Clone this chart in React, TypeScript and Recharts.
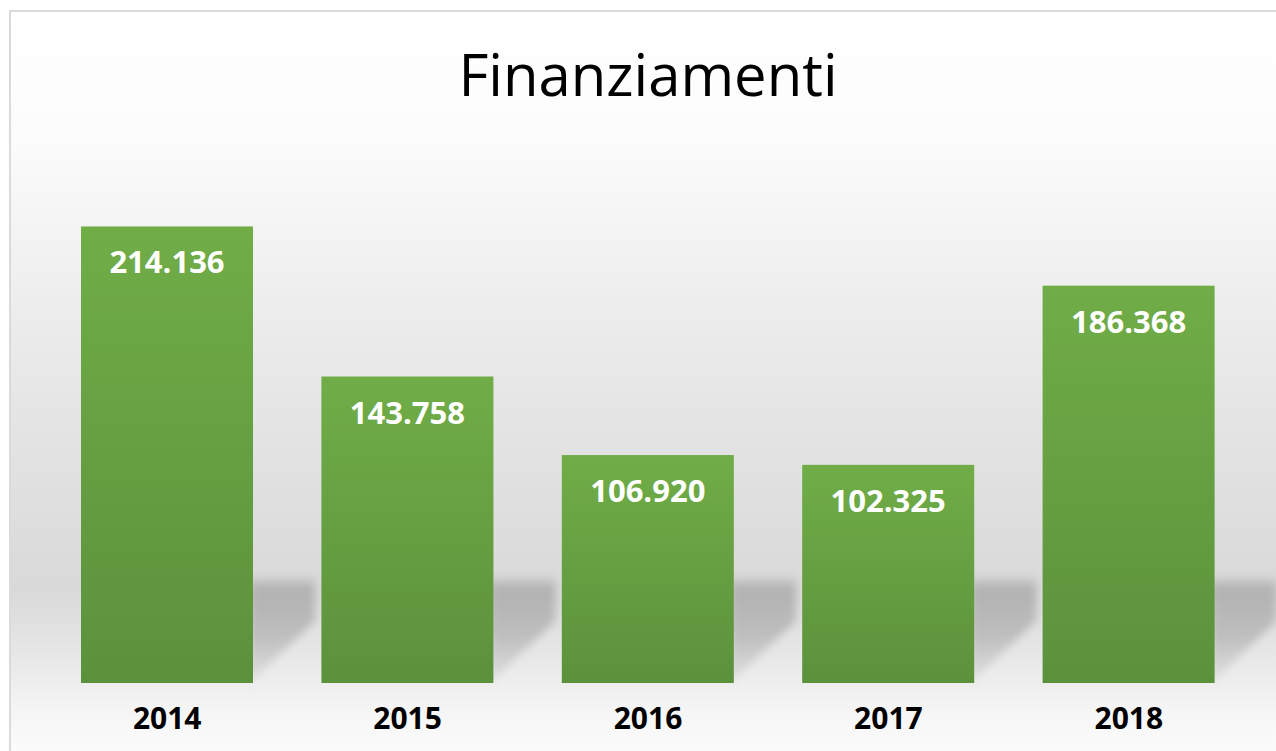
import { BarChart, Bar, XAxis, YAxis, LabelList } from 'recharts'

const years = ['2014', '2015', '2016', '2017', '2018']
const amounts = [214136, 143758, 106920, 102325, 186368]

const data = years.map((year, i) => ({ year, value: amounts[i] }))

const fmt = (v: number) => String(v).replace(/\B(?=(\d{3})+(?!\d))/g, '.')

function ShadowBar(props: any) {
  const { x, y, width, height } = props
  const bottom = y + height
  const right = x + width
  const top = bottom - 108
  const pts = [
    [right - 4, bottom],
    [right + 62, bottom - 62],
    [right + 62, top],
    [right - 4, top],
  ]
    .map((p) => p.join(','))
    .join(' ')
  return (
    <g>
      <polygon points={pts} fill="url(#shadowGrad)" filter="url(#shadowBlur)" />
      <rect x={x} y={y} width={width} height={height} fill="url(#barGrad)" />
    </g>
  )
}

export default function App() {
  return (
    <div style={{ position: 'absolute', left: 0, top: 0, width: 1276, height: 751, overflow: 'hidden', background: '#fff' }}>
      <div
        style={{
          position: 'absolute',
          left: 9,
          top: 10,
          width: 1300,
          height: 760,
          border: '2px solid #dadada',
          background:
            'linear-gradient(to bottom, #ffffff 0%, #fcfcfc 16%, #ececec 40%, #e0e0e0 62%, #d9d9d9 76%, #e6e6e6 84%, #f5f5f5 92%, #ffffff 100%)',
        }}
      />
      <div
        style={{
          position: 'absolute',
          left: 398,
          top: 36,
          width: 500,
          textAlign: 'center',
          fontFamily: '"Open Sans", sans-serif',
          fontSize: 58,
          color: '#000',
          lineHeight: '76px',
        }}
      >
        Finanziamenti
      </div>
      <div style={{ position: 'absolute', left: 0, top: 0 }}>
        <BarChart width={1276} height={751} data={data} margin={{ top: 150, right: 27, left: 47, bottom: 18 }} barSize={172}>
          <defs>
            <linearGradient id="barGrad" x1="0" y1="0" x2="0" y2="1">
              <stop offset="0%" stopColor="#70ad47" />
              <stop offset="100%" stopColor="#5c913c" />
            </linearGradient>
            <linearGradient id="shadowGrad" x1="0" y1="0" x2="0" y2="1">
              <stop offset="0%" stopColor="#a8a8a8" stopOpacity={0.0} />
              <stop offset="12%" stopColor="#a8a8a8" stopOpacity={0.8} />
              <stop offset="55%" stopColor="#b4b4b4" stopOpacity={0.8} />
              <stop offset="100%" stopColor="#d0d0d0" stopOpacity={0.5} />
            </linearGradient>
            <filter id="shadowBlur" x="-20%" y="-20%" width="140%" height="140%">
              <feGaussianBlur stdDeviation="4" />
            </filter>
          </defs>
          <XAxis
            dataKey="year"
            axisLine={false}
            tickLine={false}
            tickSize={0}
            tickMargin={25}
            height={50}
            tick={{ fill: '#000', fontSize: 30, fontWeight: 700, fontFamily: '"Open Sans", sans-serif' }}
          />
          <YAxis hide domain={[0, 250000]} />
          <Bar dataKey="value" shape={<ShadowBar />} isAnimationActive={false}>
            <LabelList
              dataKey="value"
              position="insideTop"
              offset={25}
              formatter={(v: any) => fmt(Number(v))}
              fill="#fff"
              fontSize={31}
              fontWeight={700}
              fontFamily='"Open Sans", sans-serif'
            />
          </Bar>
        </BarChart>
      </div>
    </div>
  )
}
